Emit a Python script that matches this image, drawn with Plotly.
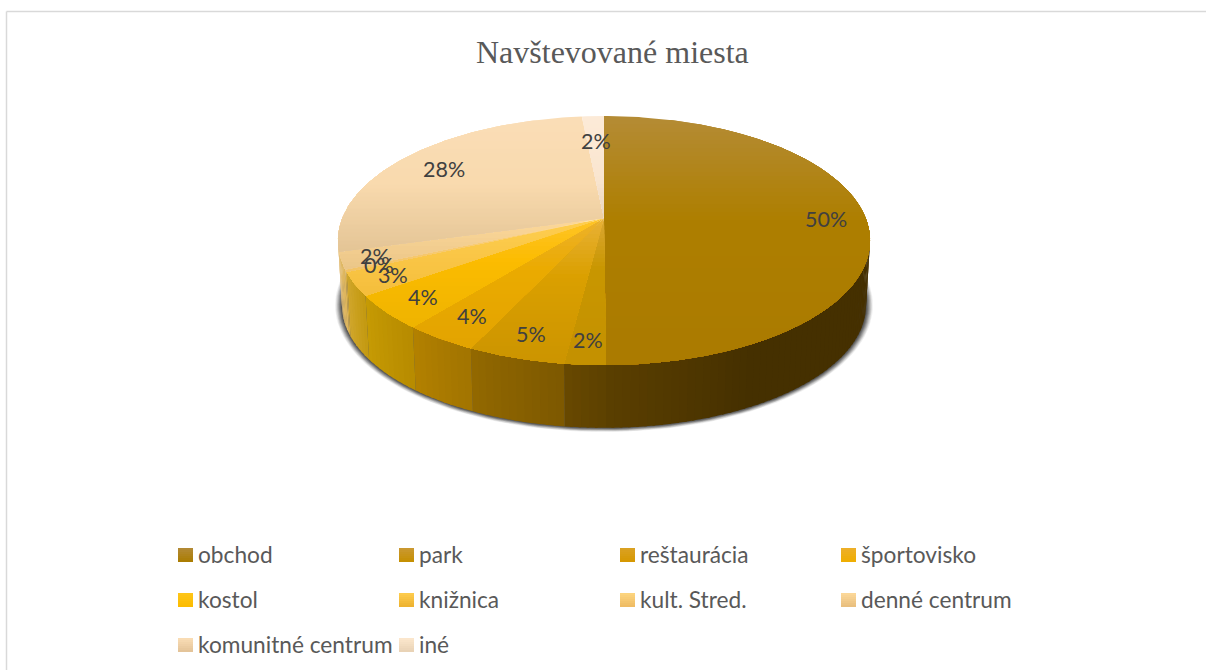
import math
import plotly.graph_objects as go

# chart data
categories = ['obchod', 'park', 'reštaurácia', 'športovisko', 'kostol', 'knižnica',
              'kult. Stred.', 'denné centrum', 'komunitné centrum', 'iné']
values = [49.9, 2.1, 5.0, 3.8, 4.4, 3.0, 0.3, 2.2, 27.7, 1.6]
title_text = 'Navštevované miesta'

# top face colours per slice, (fraction of slice height, colour)
face_stops = [
    [(0, '#B58C36'), (0.42, '#AE7F00'), (1, '#AB7B00')],
    [(0, '#DCA835'), (0.35, '#C99700'), (1, '#C49100')],
    [(0, '#E9B238'), (0.4, '#DBA000'), (1, '#CC9500')],
    [(0, '#EDB22E'), (0.4, '#EBAB00'), (1, '#E3A400')],
    [(0, '#FFC52A'), (0.4, '#FCBC00'), (1, '#EFB400')],
    [(0, '#FFCF50'), (1, '#F5BE3C')],
    [(0, '#FFD680'), (1, '#F2C266')],
    [(0, '#FDD99B'), (1, '#EBC688')],
    [(0, '#FBDEB7'), (0.5, '#F9DAAE'), (1, '#E4C596')],
    [(0, '#FDEBD8'), (0.6, '#FAE6D0'), (1, '#EAD6BE')],
]
# side wall colours per slice, from the start angle to the end angle
side_stops = [
    [(0, '#453000'), (0.65, '#453000'), (1, '#5C4000')],
    [(0, '#5E4200'), (1, '#6A4A00')],
    [(0, '#7E5900'), (1, '#946A00')],
    [(0, '#A37500'), (1, '#B48200')],
    [(0, '#B88C00'), (1, '#C79C05')],
    [(0, '#C49A12'), (1, '#D3A830')],
    [(0, '#D8AE45'), (1, '#D8AE45')],
    [(0, '#DDB55C'), (1, '#E2BE72')],
    [(0, '#E3C07C'), (1, '#E3C58E')],
    [(0, '#E3C58E'), (1, '#E3C58E')],
]
legend_tops = ['#B38B37', '#CB9933', '#DBA224', '#EDB02A', '#FFC619',
               '#FFCE4F', '#FED681', '#FDD99B', '#FBDEB7', '#FDE8CE']
legend_bots = ['#AB7C00', '#C59000', '#D69800', '#F0AE00', '#FCBC00',
               '#EDB12F', '#EEBB62', '#E8BD7C', '#E3C397', '#E8D2B5']
label_radius = [0.85, 0.85, 0.85, 0.83, 0.85, 0.86, 0.88, 0.88, 0.8, 0.73]

# pie geometry in page pixels
APEX_X, APEX_Y = 604, 218
A, B, K = 261.6, 120.4, 0.181
DEPTH, SHRINK = 65, 0.985


def project(theta, r=1.0):
    # perspective view of a circle, theta clockwise from the back
    t = math.radians(theta)
    X, Y = r * math.sin(t), r * math.cos(t)
    w = 1 + K * Y
    return APEX_X + A * X / w, APEX_Y - B * Y / w


def project_low(theta, pad=0.0):
    x, y = project(theta)
    # shadow spreads more sideways than downwards
    return (APEX_X + (x - APEX_X) * SHRINK + pad * math.sin(math.radians(theta)),
            APEX_Y + DEPTH + (y - APEX_Y) * SHRINK - 0.6 * pad * math.cos(math.radians(theta)))


def arc(a, b, step=1.0):
    n = max(2, int(abs(b - a) / step) + 1)
    return [a + (b - a) * i / (n - 1) for i in range(n)]


def mix(stops, f):
    def rgb(c):
        return [int(c[i:i + 2], 16) for i in (1, 3, 5)]
    f = min(max(f, 0), 1)
    for (f0, c0), (f1, c1) in zip(stops, stops[1:]):
        if f <= f1:
            q = (f - f0) / (f1 - f0)
            return 'rgb(%d,%d,%d)' % tuple(u + (v - u) * q for u, v in zip(rgb(c0), rgb(c1)))
    return stops[-1][1]


def clip_below(poly, limit):
    # keep the part of the polygon with y >= limit
    out = []
    for (x0, y0), (x1, y1) in zip(poly, poly[1:] + poly[:1]):
        if y0 >= limit:
            out.append((x0, y0))
        if (y0 >= limit) != (y1 >= limit):
            q = (limit - y0) / (y1 - y0)
            out.append((x0 + (x1 - x0) * q, limit))
    return out


fig = go.Figure()


def add_poly(poly, color):
    fig.add_trace(go.Scatter(x=[p[0] for p in poly] + [poly[0][0]], y=[p[1] for p in poly] + [poly[0][1]],
                             mode='lines', fill='toself', fillcolor=color, line=dict(width=0),
                             hoverinfo='skip', showlegend=False))


def add_gradient(poly, stops, band=4):
    # strips painted top to bottom, each one reaching the bottom so no seams show
    top = min(p[1] for p in poly)
    bottom = max(p[1] for p in poly)
    y = top
    while y < bottom:
        part = clip_below(poly, y)
        if len(part) > 2:
            add_poly(part, mix(stops, (y - top + band / 2) / max(bottom - top, 1)))
        y += band


# soft shadow under the pie
for pad, alpha in [(7, 0.08), (6, 0.12), (5, 0.16), (4, 0.2), (3, 0.25), (2, 0.3), (1, 0.35)]:
    ring = [project_low(t, pad) for t in arc(70, 290, 2)]
    add_poly(ring, 'rgba(50,50,50,%.2f)' % alpha)

total = sum(values)
angles = [0]
for v in values:
    angles.append(angles[-1] + v / total * 360)

# side wall, only the front part shows
for i in range(len(values)):
    a, b = max(angles[i], 97), min(angles[i + 1], 263)
    if b <= a:
        continue
    marks = arc(a, b, 1.5)
    for t0, t1 in zip(marks, marks[1:]):
        f = (t0 - angles[i]) / (angles[i + 1] - angles[i]) if i != 0 else (t0 - 97) / (angles[1] - 97)
        end = min(t1 + 0.5, b)
        strip = [project(t0), project(end), project_low(end), project_low(t0)]
        add_poly(strip, mix(side_stops[i], f))

# top face
for i in range(len(values)):
    rim = [project(t) for t in arc(angles[i], angles[i + 1])]
    add_gradient([(APEX_X, APEX_Y)] + rim, face_stops[i])

annotations = []
# percentage labels
for i, v in enumerate(values):
    x, y = project((angles[i] + angles[i + 1]) / 2, label_radius[i])
    annotations.append(dict(x=x, y=y + 1, text='%d%%' % round(v / total * 100), showarrow=False,
                            font=dict(family='Lato', size=21.5, color='#404040')))

# legend, four columns
for i, name in enumerate(categories):
    col, row = i % 4, i // 4
    x0, y0 = 178 + 221 * col, 548 + 45 * row
    add_gradient([(x0, y0), (x0 + 15, y0), (x0 + 15, y0 + 14), (x0, y0 + 14)],
                 [(0, legend_tops[i]), (1, legend_bots[i])], band=2)
    annotations.append(dict(x=x0 + 18, y=y0 + 6, text=name, showarrow=False, xanchor='left',
                            font=dict(family='Lato', size=22.7, color='#595959')))

annotations.append(dict(x=612, y=52, text=title_text, showarrow=False,
                        font=dict(family='Liberation Serif', size=32, color='#595959')))

fig.update_layout(
    width=1206, height=670, margin=dict(l=0, r=0, t=0, b=0),
    paper_bgcolor='white', plot_bgcolor='white', annotations=annotations,
    xaxis=dict(range=[0, 1206], visible=False, fixedrange=True),
    yaxis=dict(range=[670, 0], visible=False, fixedrange=True),
    shapes=[
        dict(type='line', x0=6.5, x1=1206, y0=11.5, y1=11.5, line=dict(color='#D9D9D9', width=1.5)),
        dict(type='line', x0=6.5, x1=6.5, y0=11.5, y1=670, line=dict(color='#D9D9D9', width=1.5)),
    ],
)

# the browser's default page margin would push the chart 8px in
fig.write_html('out.html', config=dict(displayModeBar=False),
               post_script="document.body.style.margin='0';document.documentElement.style.overflow='hidden';")
